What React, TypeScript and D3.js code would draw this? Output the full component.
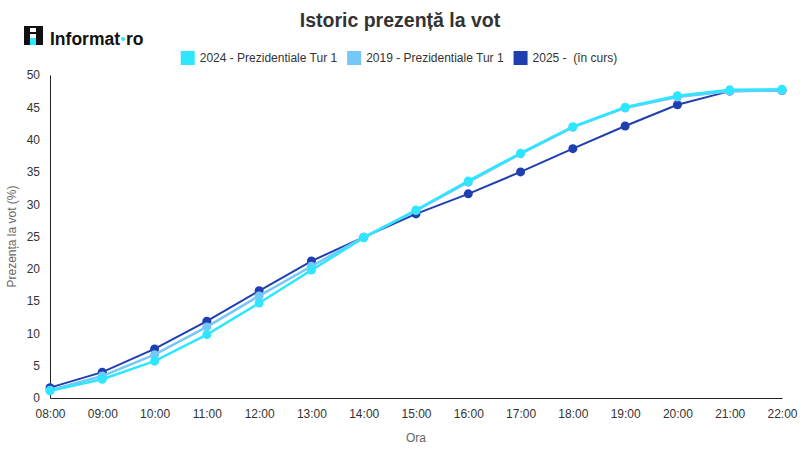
import { useRef, useEffect } from "react";
import * as d3 from "d3";

const hours = [
  "08:00", "09:00", "10:00", "11:00", "12:00", "13:00", "14:00", "15:00",
  "16:00", "17:00", "18:00", "19:00", "20:00", "21:00", "22:00",
];

const turnout2024 = [1.1, 2.9, 5.7, 9.8, 14.7, 19.8, 24.8, 29.1, 33.6, 37.9, 42.0, 45.0, 46.8, 47.7, 47.8];
const turnout2019 = [1.2, 3.4, 6.7, 11.0, 15.8, 20.4, 24.9, 29.0, 33.4, 37.8, 41.9, 44.9, 46.6, 47.5, 47.6];
const turnout2025 = [1.6, 4.0, 7.6, 11.9, 16.6, 21.2, 24.9, 28.5, 31.6, 35.0, 38.6, 42.1, 45.4, 47.5, 47.6];

const yTicks = [0, 5, 10, 15, 20, 25, 30, 35, 40, 45, 50];

const series = [
  { name: "2024 - Prezidentiale Tur 1", color: "#2ee6ff", values: turnout2024, width: 2.5 },
  { name: "2019 - Prezidentiale Tur 1", color: "#74c8f8", values: turnout2019, width: 2.5 },
  { name: "2025 -  (în curs)", color: "#1f3fb0", values: turnout2025, width: 2 },
];

const W = 800;
const H = 450;
const margin = { top: 75, right: 18, bottom: 52, left: 50 };
const font = "'Liberation Sans', Arial, sans-serif";

export default function App() {
  const svgRef = useRef<SVGSVGElement>(null);

  useEffect(() => {
    if (!svgRef.current) return;
    const svg = d3.select(svgRef.current);
    svg.selectAll("*").remove();

    const x = d3
      .scalePoint<string>()
      .domain(hours)
      .range([margin.left, W - margin.right])
      .padding(0);
    const y = d3
      .scaleLinear()
      .domain([0, 50])
      .range([H - margin.bottom, margin.top]);

    svg.append("rect").attr("width", W).attr("height", H).attr("fill", "#fff");

    // Title
    svg
      .append("text")
      .attr("x", W / 2)
      .attr("y", 27)
      .attr("text-anchor", "middle")
      .attr("font-size", "19.5px")
      .attr("font-weight", "bold")
      .attr("fill", "#333")
      .text("Istoric prezență la vot");

    // Logo
    const logo = svg.append("g");
    logo.append("rect").attr("x", 24).attr("y", 26).attr("width", 19).attr("height", 19).attr("fill", "#111");
    logo.append("rect").attr("x", 30).attr("y", 28).attr("width", 6).attr("height", 4).attr("fill", "#fff");
    logo.append("rect").attr("x", 30).attr("y", 34).attr("width", 6).attr("height", 4).attr("fill", "#fff");
    logo.append("rect").attr("x", 30).attr("y", 38).attr("width", 6).attr("height", 7).attr("fill", "#2ee6ff");
    const brand = logo
      .append("text")
      .attr("x", 50)
      .attr("y", 45)
      .attr("font-size", "17.5px")
      .attr("font-weight", "bold")
      .attr("fill", "#111")
      .attr("font-family", font)
      .text("Informat");
    const bw = (brand.node() as SVGTextElement).getComputedTextLength();
    logo.append("circle").attr("cx", 50 + bw + 3).attr("cy", 39).attr("r", 2).attr("fill", "#2ee6ff");
    logo
      .append("text")
      .attr("x", 50 + bw + 6)
      .attr("y", 45)
      .attr("font-size", "17.5px")
      .attr("font-weight", "bold")
      .attr("fill", "#111")
      .attr("font-family", font)
      .text("ro");

    // Legend
    const legend = svg.append("g");
    let lx = 0;
    const gap = 10;
    series.forEach((s) => {
      const item = legend.append("g").attr("transform", `translate(${lx},0)`);
      item.append("rect").attr("x", 0).attr("y", 51).attr("width", 14).attr("height", 14).attr("fill", s.color);
      const t = item
        .append("text")
        .attr("x", 19)
        .attr("y", 62)
        .attr("font-size", "12px")
        .attr("fill", "#333")
        .style("white-space", "pre")
        .text(s.name);
      const w = (t.node() as SVGTextElement).getComputedTextLength();
      lx += 19 + w + gap;
    });
    const totalW = lx - gap;
    legend.attr("transform", `translate(${(W - totalW) / 2 - 1},0)`);

    // Axes
    const xAxis = svg
      .append("g")
      .attr("transform", `translate(0,${H - margin.bottom})`)
      .call(d3.axisBottom(x).tickSize(0).tickPadding(11));
    xAxis.select(".domain").attr("stroke", "#222");
    xAxis.selectAll("text").attr("font-size", "12px").attr("fill", "#333").attr("font-family", font);

    const yAxis = svg
      .append("g")
      .attr("transform", `translate(${margin.left},0)`)
      .call(d3.axisLeft(y).tickValues(yTicks).tickSize(0).tickPadding(10));
    yAxis.select(".domain").attr("stroke", "#222");
    yAxis.selectAll("text").attr("font-size", "12px").attr("fill", "#333").attr("font-family", font);

    // Axis titles
    svg
      .append("text")
      .attr("x", (margin.left + W - margin.right) / 2)
      .attr("y", 442)
      .attr("text-anchor", "middle")
      .attr("font-size", "12px")
      .attr("fill", "#666")
      .text("Ora");
    svg
      .append("text")
      .attr("transform", `translate(16,${(margin.top + H - margin.bottom) / 2}) rotate(-90)`)
      .attr("text-anchor", "middle")
      .attr("font-size", "12px")
      .attr("fill", "#666")
      .text("Prezența la vot (%)");

    // Lines, bottom-most first
    const line = d3
      .line<number>()
      .x((_, i) => x(hours[i])!)
      .y((d) => y(d));

    [...series].reverse().forEach((s) => {
      const g = svg.append("g");
      g.append("path")
        .datum(s.values)
        .attr("d", line)
        .attr("fill", "none")
        .attr("stroke", s.color)
        .attr("stroke-width", s.width);
      g.selectAll("circle")
        .data(s.values)
        .join("circle")
        .attr("cx", (_, i) => x(hours[i])!)
        .attr("cy", (d) => y(d))
        .attr("r", 4.5)
        .attr("fill", s.color);
    });
  }, []);

  return (
    <svg
      ref={svgRef}
      width={W}
      height={H}
      style={{ position: "absolute", left: 0, top: 0, fontFamily: font }}
    />
  );
}
